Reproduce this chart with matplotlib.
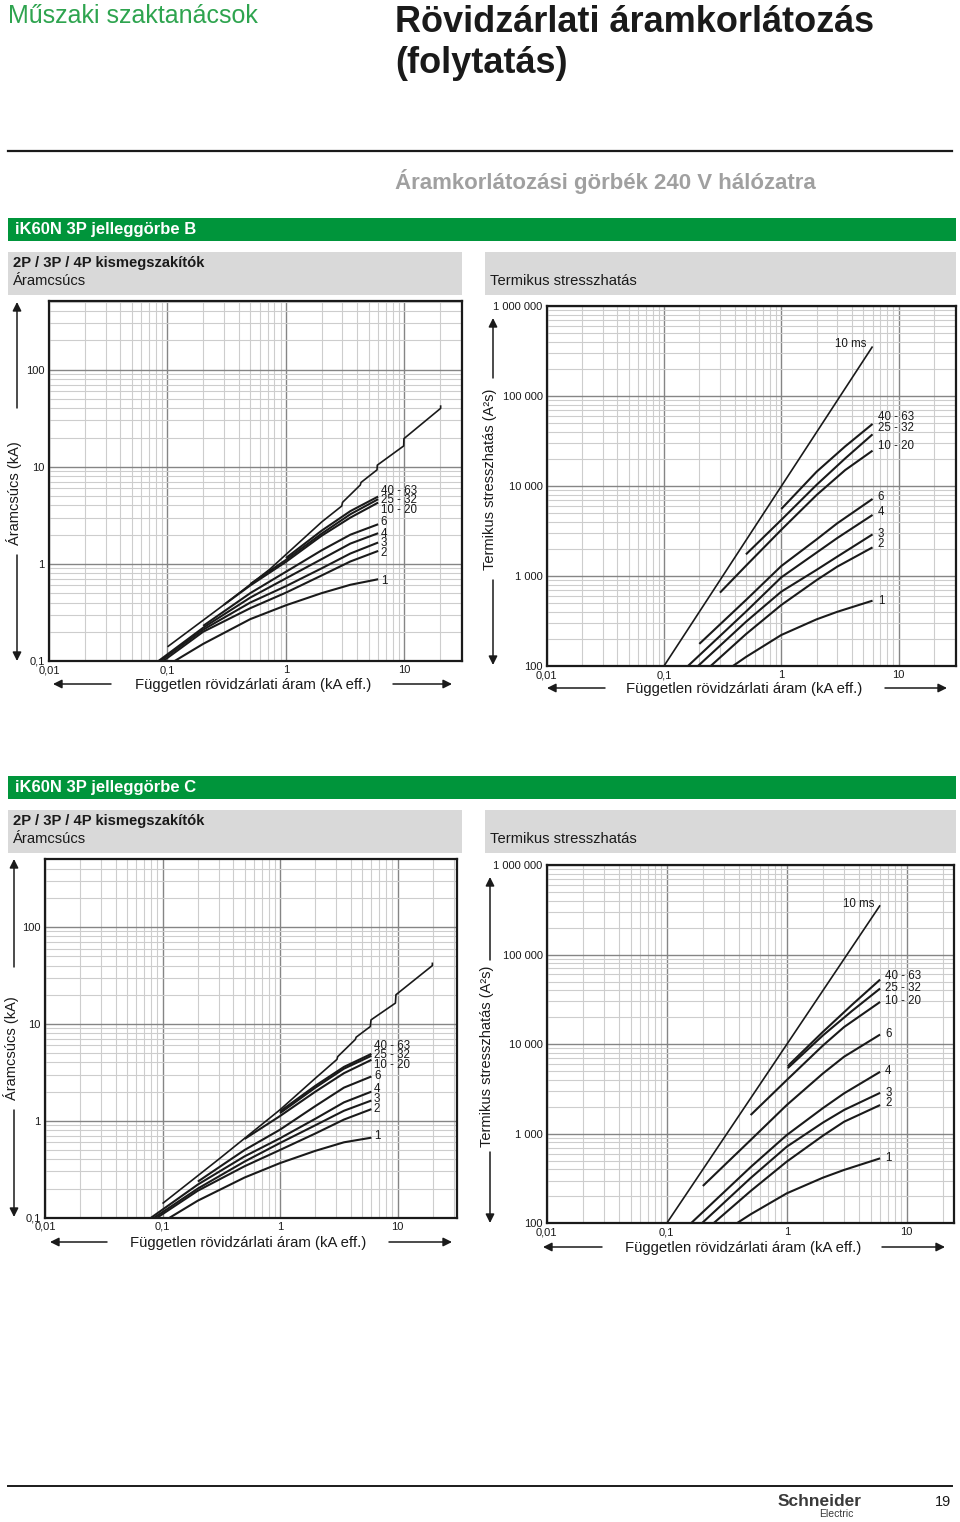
import matplotlib
matplotlib.use('Agg')
import matplotlib.pyplot as plt
from matplotlib.patches import Rectangle, FancyArrowPatch
from matplotlib.lines import Line2D
from matplotlib.ticker import LogLocator, NullFormatter

plt.rcParams['font.family'] = ['Liberation Sans', 'DejaVu Sans']

W, H = 960, 1522

# --- tengely feliratok
x_ticks = [0.01, 0.1, 1, 10]
x_ticklabels = ['0,01', '0,1', '1', '10']
peak_ticks = [0.1, 1, 10, 100]
peak_ticklabels = ['0,1', '1', '10', '100']
therm_ticks = [100, 1000, 10000, 100000, 1000000]
therm_ticklabels = ['100', '1 000', '10 000', '100 000', '1 000 000']

curve_names = ['40 - 63', '25 - 32', '10 - 20', '6', '4', '3', '2', '1']

# --- B görbe, áramcsúcs (kA)
b_peak_env_x = [0.1, 0.3, 0.73, 1, 2, 2.96, 3.0, 4.24, 4.3, 5.87, 5.9, 9.85, 9.9, 20.2, 20.2]
b_peak_env_y = [0.14, 0.38, 0.88, 1.25, 2.7, 3.95, 4.3, 6.5, 6.9, 9.3, 10.4, 16.4, 19.5, 40, 43]
b_peak_x = [
    [1, 2, 3.5, 6],
    [0.5, 1, 2, 3.5, 6],
    [0.3, 0.5, 1, 2, 3.5, 6],
    [0.2, 0.5, 1, 2, 3.5, 6],
    [0.084, 0.2, 0.5, 1, 2, 3.5, 6],
    [0.087, 0.2, 0.5, 1, 2, 3.5, 6],
    [0.092, 0.2, 0.5, 1, 2, 3.5, 6],
    [0.115, 0.2, 0.5, 1, 2, 3.5, 6],
]
b_peak_y = [
    [1.15, 2.2, 3.5, 4.94],
    [0.62, 1.1, 2.05, 3.25, 4.64],
    [0.38, 0.6, 1.05, 1.95, 3.0, 4.28],
    [0.23, 0.5, 0.83, 1.38, 2.0, 2.56],
    [0.1, 0.22, 0.45, 0.71, 1.12, 1.62, 2.07],
    [0.1, 0.21, 0.4, 0.59, 0.9, 1.28, 1.66],
    [0.1, 0.2, 0.35, 0.506, 0.76, 1.06, 1.36],
    [0.1, 0.15, 0.27, 0.375, 0.5, 0.61, 0.695],
]
b_peak_label_y = [5.66, 4.54, 3.6, 2.67, 2.05, 1.63, 1.31, 0.668]

# --- B görbe, termikus stresszhatás (A²s)
b_therm_10ms_x = [0.1, 6.0]
b_therm_10ms_y = [100, 355000]
b_therm_x = [
    [1, 2, 3.5, 6],
    [0.5, 1, 2, 3.5, 6],
    [0.3, 0.5, 1, 2, 3.5, 6],
    [0.2, 0.5, 1, 2, 3, 6],
    [0.16, 0.5, 1, 2, 3, 6],
    [0.195, 0.5, 1, 2, 3, 6],
    [0.25, 0.5, 1, 2, 3, 6],
    [0.387, 0.5, 1, 2, 3, 6],
]
b_therm_y = [
    [5550, 14400, 27500, 48900],
    [1740, 4200, 10300, 20200, 37500],
    [653, 1300, 3260, 7940, 15000, 24700],
    [176, 541, 1290, 2550, 3850, 7180],
    [100, 402, 966, 1820, 2640, 4770],
    [100, 310, 670, 1170, 1640, 2900],
    [100, 226, 476, 900, 1270, 2080],
    [100, 126, 221, 330, 400, 532],
]
b_therm_label_y = [58600, 43600, 27800, 7600, 5180, 2900, 2250, 527]

# --- C görbe, áramcsúcs (kA)
c_peak_env_x = [0.1, 0.3, 1, 2, 3.05, 3.1, 4.37, 4.45, 5.87, 5.95, 9.6, 9.7, 19.8, 19.8]
c_peak_env_y = [0.14, 0.4, 1.3, 2.75, 4.3, 4.6, 6.9, 7.3, 9.4, 11.0, 16.4, 20, 40, 43]
c_peak_x = [
    [1, 2, 3.5, 6],
    [1, 2, 3.5, 6],
    [0.5, 1, 2, 3.5, 6],
    [0.2, 0.5, 1, 2, 3.5, 6],
    [0.08, 0.2, 0.5, 1, 2, 3.5, 6],
    [0.085, 0.2, 0.5, 1, 2, 3.5, 6],
    [0.09, 0.2, 0.5, 1, 2, 3.5, 6],
    [0.115, 0.2, 0.5, 1, 2, 3.5, 6],
]
c_peak_y = [
    [1.25, 2.3, 3.6, 4.91],
    [1.2, 2.2, 3.45, 4.69],
    [0.65, 1.12, 2.0, 3.1, 4.26],
    [0.236, 0.5, 0.81, 1.42, 2.2, 2.87],
    [0.1, 0.22, 0.43, 0.66, 1.05, 1.55, 2.0],
    [0.1, 0.2, 0.38, 0.59, 0.9, 1.27, 1.62],
    [0.1, 0.19, 0.34, 0.5, 0.74, 1.03, 1.32],
    [0.1, 0.15, 0.26, 0.366, 0.49, 0.6, 0.67],
]
c_peak_label_y = [5.94, 4.8, 3.78, 2.91, 2.12, 1.67, 1.32, 0.70]

# --- C görbe, termikus stresszhatás (A²s)
c_therm_10ms_x = [0.1, 6.0]
c_therm_10ms_y = [100, 355000]
c_therm_x = [
    [1.02, 2, 3.5, 6],
    [1.02, 2, 3.5, 6],
    [0.5, 1, 2, 3, 6],
    [0.2, 0.5, 1, 2, 3, 6],
    [0.159, 0.5, 1, 2, 3, 6],
    [0.196, 0.5, 1, 2, 3, 6],
    [0.245, 0.5, 1, 2, 3, 6],
    [0.383, 0.5, 1, 2, 3, 6],
]
c_therm_y = [
    [5700, 13700, 27500, 52600],
    [5400, 12500, 23500, 41800],
    [1615, 3970, 9640, 15500, 29600],
    [261, 850, 2090, 4700, 7230, 12800],
    [100, 424, 966, 1930, 2820, 4910],
    [100, 320, 716, 1330, 1840, 2860],
    [100, 229, 488, 950, 1360, 2090],
    [100, 126, 216, 323, 394, 531],
]
c_therm_label_y = [57100, 42800, 30000, 13100, 4990, 2880, 2230, 531]

GREEN = '#00953b'
GREY_BOX = '#d9d9d9'
INK = '#1a1a1a'

fig = plt.figure(figsize=(W / 100, H / 100), dpi=100)


def fx(x):
    return x / W


def fy(y):
    return 1 - y / H


def box(x0, y0, x1, y1, color):
    fig.add_artist(Rectangle((fx(x0), fy(y1)), (x1 - x0) / W, (y1 - y0) / H,
                             transform=fig.transFigure, facecolor=color, edgecolor='none'))


def hline(x0, x1, y, lw):
    fig.add_artist(Line2D([fx(x0), fx(x1)], [fy(y), fy(y)],
                          transform=fig.transFigure, color=INK, lw=lw))


def arrow(x0, y0, x1, y1):
    fig.add_artist(FancyArrowPatch((fx(x0), fy(y0)), (fx(x1), fy(y1)),
                                   transform=fig.transFigure, arrowstyle='-|>',
                                   mutation_scale=13, lw=1.1, color=INK,
                                   shrinkA=0, shrinkB=0))


def txt(x, y, s, **kw):
    fig.text(fx(x), fy(y), s, **kw)


def chart(x0, y0, x1, y1, xlim, ylim, yticks, yticklabels,
          env_x, env_y, cx, cy, label_x, label_y, ms_label=None):
    ax = fig.add_axes([fx(x0), fy(y1), (x1 - x0) / W, (y1 - y0) / H])
    ax.set_xscale('log')
    ax.set_yscale('log')
    ax.set_xlim(*xlim)
    ax.set_ylim(*ylim)
    ax.set_xticks(x_ticks)
    ax.set_xticklabels(x_ticklabels)
    ax.set_yticks(yticks)
    ax.set_yticklabels(yticklabels)
    for axis in (ax.xaxis, ax.yaxis):
        axis.set_minor_locator(LogLocator(base=10, subs=range(2, 10), numticks=100))
        axis.set_minor_formatter(NullFormatter())
    ax.tick_params(which='both', length=0, labelsize=8, pad=3, colors=INK)
    ax.grid(which='minor', color='#cdcdcd', lw=0.8)
    ax.grid(which='major', color='#858585', lw=1.0)
    ax.set_axisbelow(True)
    for sp in ax.spines.values():
        sp.set_linewidth(1.6)
        sp.set_color(INK)
    ax.plot(env_x, env_y, color=INK, lw=1.2, solid_capstyle='butt')
    for xs, ys in zip(cx, cy):
        ax.plot(xs, ys, color=INK, lw=1.5, solid_capstyle='butt', solid_joinstyle='round')
    for name, ly in zip(curve_names, label_y):
        ax.text(label_x, ly, name, fontsize=8.3, va='center', ha='left', color=INK)
    if ms_label is not None:
        ax.text(ms_label[0], ms_label[1], '10 ms', fontsize=8.3, va='center',
                ha='right', color=INK)
    return ax


# --- fejléc
txt(8, 23, 'Műszaki szaktanácsok', fontsize=18, color='#2ea44f', va='baseline')
txt(395, 32, 'Rövidzárlati áramkorlátozás', fontsize=26, fontweight='bold',
    color=INK, va='baseline')
txt(395, 73, '(folytatás)', fontsize=26, fontweight='bold', color=INK, va='baseline')
hline(8, 952, 151, 1.6)
txt(395, 189, 'Áramkorlátozási görbék 240 V hálózatra', fontsize=16,
    fontweight='bold', color='#a0a0a0', va='baseline')

for top, letter in ((218, 'B'), (776, 'C')):
    box(8, top, 956, top + 23, GREEN)
    txt(15, top + 11.5, 'iK60N 3P jelleggörbe ' + letter, fontsize=12,
        fontweight='bold', color='white', va='center')
    box(8, top + 34, 462, top + 77, GREY_BOX)
    box(485, top + 34, 956, top + 77, GREY_BOX)
    txt(13, top + 45, '2P / 3P / 4P kismegszakítók', fontsize=10.6,
        fontweight='bold', color=INK, va='center')
    txt(13, top + 63, 'Áramcsúcs', fontsize=10.6, color=INK, va='center')
    txt(490, top + 63, 'Termikus stresszhatás', fontsize=10.6, color=INK, va='center')

# --- B diagramok
chart(49, 301, 462, 661, (0.01, 30.6), (0.1, 510), peak_ticks, peak_ticklabels,
      b_peak_env_x, b_peak_env_y, b_peak_x, b_peak_y, 6.3, b_peak_label_y)
chart(546.7, 306, 955.7, 666, (0.01, 30.7), (100, 1e6), therm_ticks, therm_ticklabels,
      b_therm_10ms_x, b_therm_10ms_y, b_therm_x, b_therm_y, 6.66, b_therm_label_y,
      ms_label=(5.3, 378000))

# --- C diagramok
chart(45, 859.3, 456.7, 1217.7, (0.01, 31.9), (0.1, 500), peak_ticks, peak_ticklabels,
      c_peak_env_x, c_peak_env_y, c_peak_x, c_peak_y, 6.3, c_peak_label_y)
chart(546.7, 865, 954.3, 1223.3, (0.01, 24.9), (100, 1e6), therm_ticks, therm_ticklabels,
      c_therm_10ms_x, c_therm_10ms_y, c_therm_x, c_therm_y, 6.6, c_therm_label_y,
      ms_label=(5.34, 369000))

# --- tengely nyilak és címek
x_title = 'Független rövidzárlati áram (kA eff.)'
peak_title = 'Áramcsúcs (kA)'
therm_title = 'Termikus stresszhatás (A²s)'

axis_layout = [
    # vx, up_top, up_bottom, label_y, down_top, down_bottom, title, hy, l_tip, l_tail, hx, r_tail, r_tip
    (17, 302, 408, 493, 555, 661, peak_title, 684, 53, 111, 253, 393, 452),
    (493, 318, 378, 479, 580, 665, therm_title, 688, 547, 605, 744, 885, 947),
    (14, 859, 967, 1048, 1110, 1217, peak_title, 1242, 50, 107, 248, 389, 452),
    (490, 877, 960, 1056, 1152, 1223, therm_title, 1247, 543, 602, 743, 882, 945),
]
for vx, ut, ub, ly, dt, db, title, hy, lt, ll, hx, rt, rp in axis_layout:
    arrow(vx, ub, vx, ut)
    arrow(vx, dt, vx, db)
    txt(vx - 3, ly, title, fontsize=10.5, rotation=90, ha='center', va='center', color=INK)
    arrow(ll, hy, lt, hy)
    arrow(rt, hy, rp, hy)
    txt(hx, hy + 1, x_title, fontsize=10.7, ha='center', va='center', color=INK)

# --- lábléc
hline(8, 952, 1486, 1.4)
txt(820, 1502, 'Schneider', fontsize=12.5, fontweight='bold', color='#3a3a3a',
    ha='center', va='center')
txt(836, 1514, 'Electric', fontsize=7.5, color='#3a3a3a', ha='center', va='center')
txt(943, 1502, '19', fontsize=10.5, color=INK, ha='center', va='center')

fig.savefig('out.png', dpi=100)
